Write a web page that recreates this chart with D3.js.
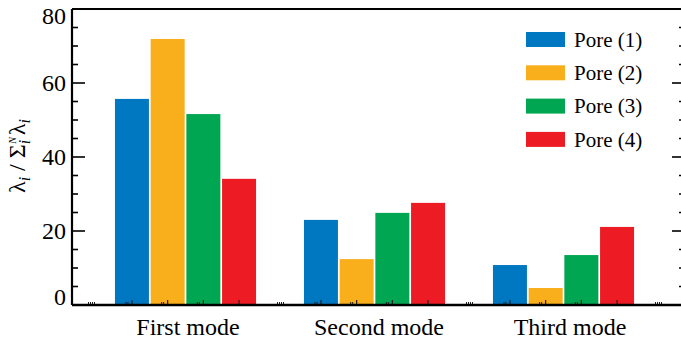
<!DOCTYPE html>
<html><head><meta charset="utf-8">
<script src="https://cdn.jsdelivr.net/npm/d3@7"></script>
</head><body style="margin:0"><svg id="c" width="681" height="342"></svg>
<script>
const categories = ["First mode", "Second mode", "Third mode"];
const series = ["Pore (1)", "Pore (2)", "Pore (3)", "Pore (4)"];
const pore1 = [55.7, 23.0, 10.8];
const pore2 = [71.9, 12.4, 4.6];
const pore3 = [51.6, 24.9, 13.5];
const pore4 = [34.1, 27.6, 21.1];
const yTicks = [0, 20, 40, 60, 80];
const colors = ["#0078c1", "#f9ae1b", "#00a651", "#ed1c24"];
const values = [pore1, pore2, pore3, pore4];
const FONT = '"Liberation Serif", "Times New Roman", Tinos, FreeSerif';

const svg = d3.select("#c");
const L = 72, R = 685, T = 9, B = 305;
const y = d3.scaleLinear().domain([0, 80]).range([B, T]);
const x0 = d3.scaleBand().domain(categories).range([91, 658]);
const x1 = d3.scaleBand().domain(series).range([23.95, 165.05]).paddingInner(0.048);
const xl = d3.scalePoint().domain(categories).range([188, 570]);

series.forEach((s, j) => {
  svg.append("g").selectAll("rect").data(values[j]).join("rect")
    .attr("x", (d, i) => x0(categories[i]) + x1(s))
    .attr("width", x1.bandwidth())
    .attr("y", d => y(d))
    .attr("height", d => y(0) - y(d))
    .attr("fill", colors[j]);
});

const tg = svg.append("g").attr("stroke", "#222").attr("stroke-width", 1);
const gaps = [0, 1, 2, 3].map(i => 91 + i * x0.step());
gaps.forEach(g => {
  [-3, -1, 1, 3].forEach(o => tg.append("line").attr("x1", g + o + 0.5).attr("x2", g + o + 0.5).attr("y1", B).attr("y2", B - 3));
});
categories.forEach(c => {
  series.forEach((s, j) => {
    const cx = x0(c) + x1(s) + x1.bandwidth() / 2;
    tg.append("line").attr("x1", cx).attr("x2", cx).attr("y1", B).attr("y2", B - 5).attr("stroke-width", 1.2);
    if (j < 3) [-6, -4].forEach(o => tg.append("line").attr("x1", cx + o).attr("x2", cx + o).attr("y1", B).attr("y2", B - 3));
  });
});

const ag = svg.append("g");
d3.range(0, 81, 5).forEach(v => {
  const major = v % 20 === 0;
  const len = major ? 13 : 6;
  ag.append("line").attr("x1", L).attr("x2", L + len).attr("y1", y(v)).attr("y2", y(v)).attr("stroke", "#000").attr("stroke-width", 1.6);
  ag.append("line").attr("x1", R).attr("x2", R - len).attr("y1", y(v)).attr("y2", y(v)).attr("stroke", "#000").attr("stroke-width", 1.6);
});
svg.append("line").attr("x1", L).attr("x2", R).attr("y1", B).attr("y2", B).attr("stroke", "#000").attr("stroke-width", 2.4);
svg.append("line").attr("x1", L).attr("x2", R).attr("y1", T).attr("y2", T).attr("stroke", "#000").attr("stroke-width", 2.2);
svg.append("line").attr("x1", L).attr("x2", L).attr("y1", T).attr("y2", B).attr("stroke", "#000").attr("stroke-width", 2.2);

svg.append("g").selectAll("text").data(yTicks).join("text")
  .attr("x", 66)
  .attr("y", d => y(d) + (d === 80 ? 7 : d === 0 ? -8 : 0))
  .attr("dy", "0.35em")
  .attr("text-anchor", "end")
  .style("font-family", FONT).style("font-size", "24px")
  .text(d => d);

svg.append("g").selectAll("text").data(categories).join("text")
  .attr("x", d => xl(d)).attr("y", 335)
  .attr("text-anchor", "middle")
  .style("font-family", FONT).style("font-size", "24px")
  .text(d => d);

const yl = svg.append("text").attr("transform", "translate(25," + (y(40) - 1) + ") rotate(-90)")
  .attr("text-anchor", "middle").style("font-family", FONT).style("font-size", "24px");
yl.append("tspan").style("font-family", FONT).text("λ");
yl.append("tspan").style("font-family", FONT).style("font-style", "italic").attr("dy", 5).style("font-size", "16px").text("i");
yl.append("tspan").style("font-family", FONT).attr("dy", -5).text(" / Σ");
yl.append("tspan").style("font-family", FONT).style("font-style", "italic").attr("dy", 5).style("font-size", "16px").text("i");
yl.append("tspan").style("font-family", FONT).style("font-style", "italic").attr("dx", -4).attr("dy", -14).style("font-size", "10px").text("N");
yl.append("tspan").style("font-family", FONT).attr("dx", 2).attr("dy", 9).text("λ");
yl.append("tspan").style("font-family", FONT).style("font-style", "italic").attr("dy", 5).style("font-size", "16px").text("i");

const lg = svg.append("g").selectAll("g").data(series).join("g")
  .attr("transform", (d, i) => `translate(526,${32 + i * 33.3})`);
lg.append("rect").attr("width", 39).attr("height", 15).attr("fill", (d, i) => colors[i]);
lg.append("text").attr("x", 48).attr("y", 7.5).attr("dy", "0.35em")
  .style("font-family", FONT).style("font-size", "21px").text(d => d);
</script></body></html>
